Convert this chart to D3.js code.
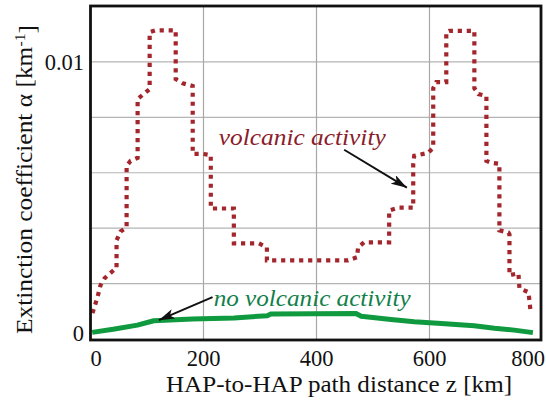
<!DOCTYPE html>
<html><head><meta charset="utf-8">
<script src="https://cdn.jsdelivr.net/npm/d3@7"></script>
<style>body{margin:0;background:#fff}</style>
</head><body><svg id="c" width="546" height="403"></svg>
<script>
// ---- data ----
const xTicks = [0, 200, 400, 600, 800];
const xTickLabels = ["0", "200", "400", "600", "800"];
const yTicks = [0, 0.01];
const yTickLabels = ["0", "0.01"];
const yGrid = [0.002, 0.004, 0.006, 0.008, 0.010];
const xGrid = [200, 400, 600];

// volcanic activity (dotted step curve), z [km]
const volcanicZ = [3.5, 12.4, 17.7, 24.8, 40.8, 46.1, 46.1, 53.2, 63.9, 63.9, 71, 83.4, 83.4, 94, 104.7, 104.7, 115, 150.8, 150.8, 163.2, 180.9, 180.9, 198.7, 212.9, 212.9, 253.7, 253.7, 298, 312.2, 312.2, 455.9, 471.8, 473.6, 484.3, 528.6, 528.6, 544.6, 571.2, 571.2, 573, 597.8, 606.6, 606.6, 612, 629.7, 629.7, 635, 679.4, 679.4, 686.5, 700.7, 700.7, 709.5, 723.7, 723.7, 739.7, 741.5, 741.5, 757.4, 759.2, 775.2, 778.7];
// alpha [km^-1]
const volcanicA = [0.00093, 0.00151, 0.00194, 0.00219, 0.00248, 0.00255, 0.00356, 0.00388, 0.00402, 0.00625, 0.00643, 0.00654, 0.00866, 0.00884, 0.00902, 0.01107, 0.01114, 0.01114, 0.00938, 0.00923, 0.00913, 0.00668, 0.00668, 0.00664, 0.00471, 0.00471, 0.00345, 0.00345, 0.00331, 0.00284, 0.00284, 0.00295, 0.00331, 0.00349, 0.00349, 0.00464, 0.00474, 0.00474, 0.00632, 0.00661, 0.00672, 0.00690, 0.00905, 0.00927, 0.00927, 0.01107, 0.01112, 0.01112, 0.00905, 0.00884, 0.00877, 0.00643, 0.00636, 0.00632, 0.00392, 0.00384, 0.00378, 0.00230, 0.00237, 0.00183, 0.00169, 0.00104];

// no volcanic activity (solid)
const calmZ = [3, 40, 83, 112, 180, 254, 313, 319, 470, 479, 532, 573, 621, 679, 715, 750, 783];
const calmA = [0.00024, 0.00035, 0.00050, 0.00066, 0.00072, 0.00076, 0.00084, 0.00090, 0.00092, 0.00082, 0.00070, 0.00062, 0.00056, 0.00048, 0.00039, 0.00032, 0.00023];

// annotations (data coordinates)
const volcText = {z: 227, a: 0.00700, label: "volcanic activity"};
const volcArrow = {z0: 449, a0: 0.00683, z1: 560, a1: 0.00546};
const calmText = {z: 218, a: 0.00118, label: "no volcanic activity"};
const calmArrow = {z0: 216, a0: 0.00151, z1: 121, a1: 0.00068};

// ---- layout ----
const L = 90.5, R = 541, T = 6, B = 339;
const svg = d3.select("#c");
const x = d3.scaleLinear().domain([0, 800]).range([L, 542.5]);
const y = d3.scaleLinear().domain([0, 0.012]).range([B, T + 0.5]);

const serif = "'Liberation Serif','Times New Roman',serif";

// grid
svg.append("g").selectAll("line").data(yGrid).join("line")
  .attr("x1", L).attr("x2", R).attr("y1", d => y(d)).attr("y2", d => y(d))
  .attr("stroke", "#b4b4b4").attr("stroke-width", 1.2);
svg.append("g").selectAll("line").data(xGrid).join("line")
  .attr("y1", T).attr("y2", B).attr("x1", d => x(d)).attr("x2", d => x(d))
  .attr("stroke", "#a8a8a8").attr("stroke-width", 1.2);

// curves
const volc = volcanicZ.map((z, i) => [z, volcanicA[i]]);
const calm = calmZ.map((z, i) => [z, calmA[i]]);
const line = d3.line().x(d => x(d[0])).y(d => y(d[1]));

svg.append("path").attr("d", line(calm)).attr("fill", "none")
  .attr("stroke", "#0f9a3f").attr("stroke-width", 5).attr("stroke-linejoin", "round");
svg.append("path").attr("d", line(volc)).attr("fill", "none")
  .attr("stroke", "#a3262c").attr("stroke-width", 4.2).attr("stroke-dasharray", "4.2,4.8");

// frame
svg.append("rect").attr("x", L).attr("y", T).attr("width", R - L).attr("height", B + 1 - T)
  .attr("fill", "none").attr("stroke", "#111").attr("stroke-width", 2.8);

// arrows
const defs = svg.append("defs");
defs.append("marker").attr("id", "ah").attr("markerUnits", "userSpaceOnUse")
  .attr("viewBox", "0 0 16 10").attr("refX", 16).attr("refY", 5)
  .attr("markerWidth", 16).attr("markerHeight", 10).attr("orient", "auto")
  .append("path").attr("d", "M0,0 L16,5 L0,10 L4,5 Z").attr("fill", "#111");
[volcArrow, calmArrow].forEach(a => {
  svg.append("line").attr("x1", x(a.z0)).attr("y1", y(a.a0))
    .attr("x2", x(a.z1)).attr("y2", y(a.a1))
    .attr("stroke", "#111").attr("stroke-width", 2).attr("marker-end", "url(#ah)");
});

// annotation texts
svg.append("text").attr("x", x(volcText.z)).attr("y", y(volcText.a))
  .attr("font-family", serif).attr("font-style", "italic").attr("font-size", 22.5)
  .attr("fill", "#8a1c2b").attr("textLength", 167).attr("lengthAdjust", "spacingAndGlyphs")
  .text(volcText.label);
svg.append("text").attr("x", x(calmText.z)).attr("y", y(calmText.a))
  .attr("font-family", serif).attr("font-style", "italic").attr("font-size", 22.5)
  .attr("fill", "#12804a").attr("textLength", 197).attr("lengthAdjust", "spacingAndGlyphs")
  .text(calmText.label);

// x tick labels
svg.append("g").selectAll("text").data(xTicks).join("text")
  .attr("x", (d, i) => i === 0 ? x(d) : (i === xTicks.length - 1 ? 545 : x(d)))
  .attr("y", 366)
  .attr("text-anchor", (d, i) => i === 0 ? "start" : (i === xTicks.length - 1 ? "end" : "middle"))
  .attr("font-family", serif).attr("font-size", 22.5).attr("fill", "#111")
  .text((d, i) => xTickLabels[i]);

// y tick labels
svg.append("g").selectAll("text").data(yTicks).join("text")
  .attr("x", 84).attr("y", d => Math.min(y(d), B - 6))
  .attr("dy", "0.35em").attr("text-anchor", "end")
  .attr("font-family", serif).attr("font-size", 22.5).attr("fill", "#111")
  .text((d, i) => yTickLabels[i]);

// axis titles
svg.append("text").attr("x", 339).attr("y", 392).attr("text-anchor", "middle")
  .attr("font-family", serif).attr("font-size", 22.5).attr("fill", "#111")
  .attr("textLength", 346).attr("lengthAdjust", "spacingAndGlyphs")
  .text("HAP-to-HAP path distance z [km]");

const yt = svg.append("text").attr("transform", "translate(31.5,179.5) rotate(-90) scale(1.13,1)")
  .attr("text-anchor", "middle")
  .attr("font-family", serif).attr("font-size", 22.5).attr("fill", "#111");
yt.append("tspan").text("Extinction coefficient \u03b1 [km");
yt.append("tspan").attr("dy", "-0.45em").attr("font-size", 14).text("-1");
yt.append("tspan").attr("dy", "0.45em").text("]");
</script>
</body></html>
